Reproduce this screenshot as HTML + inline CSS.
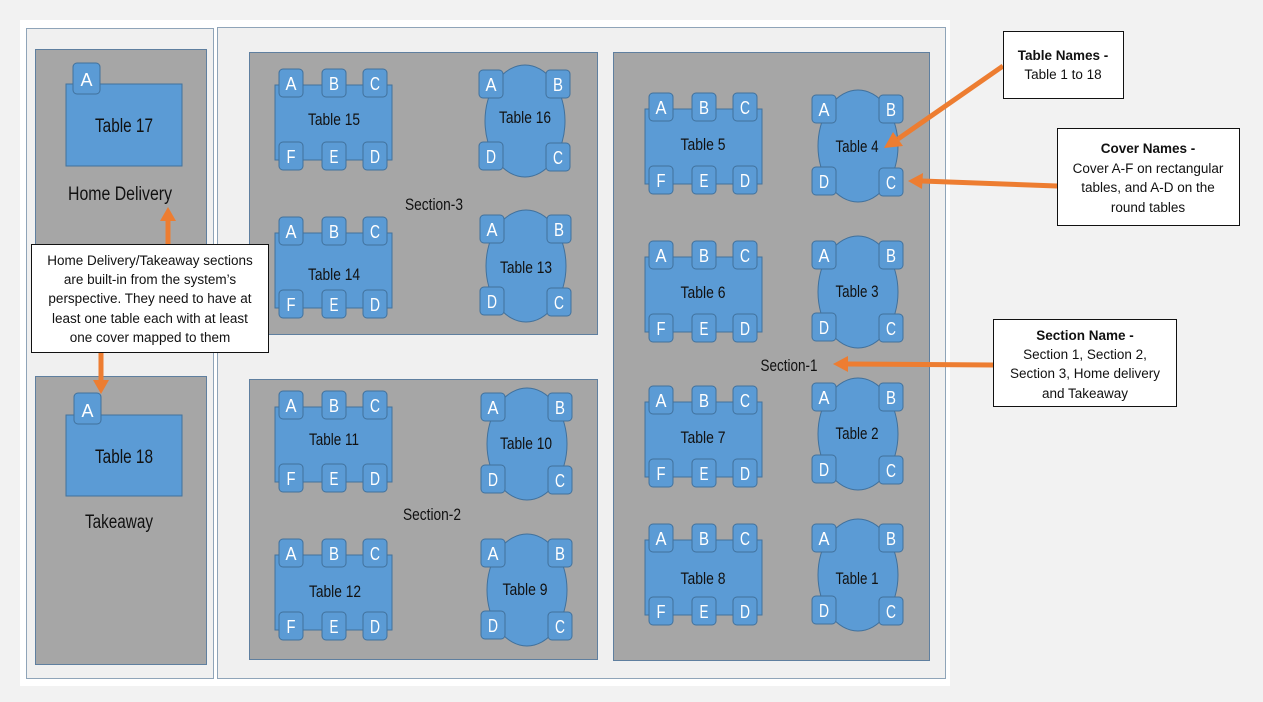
<!DOCTYPE html>
<html><head><meta charset="utf-8"><style>
html,body{margin:0;padding:0;background:#f2f2f2;}
svg{display:block;}
text{font-family:"Liberation Sans",sans-serif;}
.cv rect{fill:#5b9bd5;stroke:#41719c;stroke-width:1;}
.cv text{fill:#fff;font-size:18px;text-anchor:middle;}
.lbl{fill:#111;font-size:17px;text-anchor:middle;}
.sec{fill:#a6a6a6;stroke:#5f7f9f;stroke-width:1;}
.tb{fill:#5b9bd5;stroke:#41719c;stroke-width:1;}
.note{font-size:13.5px;fill:#111;text-anchor:middle;}
</style></head><body>
<svg width="1263" height="702" viewBox="0 0 1263 702" xmlns="http://www.w3.org/2000/svg">
<defs>
<g id="rt">
<rect class="tb" x="0" y="0" width="117" height="75"/>
<g class="cv"><rect x="4" y="-16" width="24" height="28" rx="4"/><text x="16" y="5" textLength="11" lengthAdjust="spacingAndGlyphs">A</text>
<rect x="47" y="-16" width="24" height="28" rx="4"/><text x="59" y="5" textLength="10" lengthAdjust="spacingAndGlyphs">B</text>
<rect x="88" y="-16" width="24" height="28" rx="4"/><text x="100" y="5" textLength="10" lengthAdjust="spacingAndGlyphs">C</text>
<rect x="4" y="57" width="24" height="28" rx="4"/><text x="16" y="78" textLength="9" lengthAdjust="spacingAndGlyphs">F</text>
<rect x="47" y="57" width="24" height="28" rx="4"/><text x="59" y="78" textLength="9" lengthAdjust="spacingAndGlyphs">E</text>
<rect x="88" y="57" width="24" height="28" rx="4"/><text x="100" y="78" textLength="10" lengthAdjust="spacingAndGlyphs">D</text></g>
</g>
<g id="ct">
<ellipse class="tb" cx="40" cy="56" rx="40" ry="56"/>
<g class="cv"><rect x="-6" y="5" width="24" height="28" rx="4"/><text x="6" y="26" textLength="11" lengthAdjust="spacingAndGlyphs">A</text>
<rect x="61" y="5" width="24" height="28" rx="4"/><text x="73" y="26" textLength="10" lengthAdjust="spacingAndGlyphs">B</text>
<rect x="-6" y="77" width="24" height="28" rx="4"/><text x="6" y="98" textLength="10" lengthAdjust="spacingAndGlyphs">D</text>
<rect x="61" y="78" width="24" height="28" rx="4"/><text x="73" y="99" textLength="10" lengthAdjust="spacingAndGlyphs">C</text></g>
</g>
</defs>
<rect x="0" y="0" width="1263" height="702" fill="#f2f2f2"/>
<rect x="20" y="20" width="930" height="666" fill="#fff"/>
<rect x="26.5" y="28.5" width="187" height="650" fill="#f0f0f0" stroke="#8fa4b8"/>
<rect x="217.5" y="27.5" width="728" height="651" fill="#f0f0f0" stroke="#8fa4b8"/>
<rect class="sec" x="35.5" y="49.5" width="171" height="297"/>
<rect class="sec" x="35.5" y="376.5" width="171" height="288"/>
<rect class="sec" x="249.5" y="52.5" width="348" height="282"/>
<rect class="sec" x="249.5" y="379.5" width="348" height="280"/>
<rect class="sec" x="613.5" y="52.5" width="316" height="608"/>

<!-- Home delivery -->
<rect class="tb" x="66" y="84" width="116" height="82"/>
<g class="cv"><rect x="73" y="63" width="27" height="31" rx="4"/><text x="86.5" y="86" textLength="12" lengthAdjust="spacingAndGlyphs">A</text></g>
<text class="lbl" x="124" y="132" style="font-size:19px" textLength="58" lengthAdjust="spacingAndGlyphs">Table 17</text>
<text class="lbl" x="120" y="200" style="font-size:19px" textLength="104" lengthAdjust="spacingAndGlyphs">Home Delivery</text>
<rect class="tb" x="66" y="415" width="116" height="81"/>
<g class="cv"><rect x="74" y="393" width="27" height="31" rx="4"/><text x="87.5" y="417" textLength="12" lengthAdjust="spacingAndGlyphs">A</text></g>
<text class="lbl" x="124" y="463" style="font-size:19px" textLength="58" lengthAdjust="spacingAndGlyphs">Table 18</text>
<text class="lbl" x="119" y="528" style="font-size:19px" textLength="68" lengthAdjust="spacingAndGlyphs">Takeaway</text>

<!-- Section 3 -->
<use href="#rt" x="275" y="85"/><text class="lbl" x="334" y="125" textLength="52" lengthAdjust="spacingAndGlyphs">Table 15</text>
<use href="#rt" x="275" y="233"/><text class="lbl" x="334" y="280" textLength="52" lengthAdjust="spacingAndGlyphs">Table 14</text>
<use href="#ct" x="485" y="65"/><text class="lbl" x="525" y="123" textLength="52" lengthAdjust="spacingAndGlyphs">Table 16</text>
<use href="#ct" x="486" y="210"/><text class="lbl" x="526" y="273" textLength="52" lengthAdjust="spacingAndGlyphs">Table 13</text>
<text class="lbl" x="434" y="210" textLength="58" lengthAdjust="spacingAndGlyphs">Section-3</text>

<!-- Section 2 -->
<use href="#rt" x="275" y="407"/><text class="lbl" x="334" y="445" textLength="50" lengthAdjust="spacingAndGlyphs">Table 11</text>
<use href="#rt" x="275" y="555"/><text class="lbl" x="335" y="597" textLength="52" lengthAdjust="spacingAndGlyphs">Table 12</text>
<use href="#ct" x="487" y="388"/><text class="lbl" x="526" y="449" textLength="52" lengthAdjust="spacingAndGlyphs">Table 10</text>
<use href="#ct" x="487" y="534"/><text class="lbl" x="525" y="595" textLength="45" lengthAdjust="spacingAndGlyphs">Table 9</text>
<text class="lbl" x="432" y="520" textLength="58" lengthAdjust="spacingAndGlyphs">Section-2</text>

<!-- Section 1 -->
<use href="#rt" x="645" y="109"/><text class="lbl" x="703" y="150" textLength="45" lengthAdjust="spacingAndGlyphs">Table 5</text>
<use href="#rt" x="645" y="257"/><text class="lbl" x="703" y="298" textLength="45" lengthAdjust="spacingAndGlyphs">Table 6</text>
<use href="#rt" x="645" y="402"/><text class="lbl" x="703" y="443" textLength="45" lengthAdjust="spacingAndGlyphs">Table 7</text>
<use href="#rt" x="645" y="540"/><text class="lbl" x="703" y="584" textLength="45" lengthAdjust="spacingAndGlyphs">Table 8</text>
<use href="#ct" x="818" y="90"/><text class="lbl" x="857" y="152" textLength="43" lengthAdjust="spacingAndGlyphs">Table 4</text>
<use href="#ct" x="818" y="236"/><text class="lbl" x="857" y="297" textLength="43" lengthAdjust="spacingAndGlyphs">Table 3</text>
<use href="#ct" x="818" y="378"/><text class="lbl" x="857" y="439" textLength="43" lengthAdjust="spacingAndGlyphs">Table 2</text>
<use href="#ct" x="818" y="519"/><text class="lbl" x="857" y="584" textLength="43" lengthAdjust="spacingAndGlyphs">Table 1</text>
<text class="lbl" x="789" y="371" textLength="57" lengthAdjust="spacingAndGlyphs">Section-1</text>

<!-- arrows -->
<g stroke="#ed7d31" stroke-width="5" fill="none">
<line x1="168" y1="245" x2="168" y2="220"/>
<line x1="101" y1="352" x2="101" y2="382"/>
<line x1="1003" y1="66" x2="898" y2="139"/>
<line x1="1057" y1="186" x2="922" y2="181"/>
<line x1="993" y1="365" x2="847" y2="364"/>
</g>
<g fill="#ed7d31">
<polygon points="168,207 160,221 176,221"/>
<polygon points="101,394 93,380 109,380"/>
<polygon points="884,148 893,132 903,146"/>
<polygon points="908,181 923,173 922,189"/>
<polygon points="833,364 848,356 848,372"/>
</g>

<!-- notes -->
<rect x="31.5" y="244.5" width="237" height="108" fill="#fff" stroke="#111"/>
<text class="note" x="150" y="265">Home Delivery/Takeaway sections</text>
<text class="note" x="150" y="284">are built-in from the system’s</text>
<text class="note" x="150" y="303">perspective. They need to have at</text>
<text class="note" x="150" y="323">least one table each with at least</text>
<text class="note" x="150" y="342">one cover mapped to them</text>

<rect x="1003.5" y="31.5" width="120" height="67" fill="#fff" stroke="#111"/>
<text class="note" x="1063" y="60" style="font-weight:bold">Table Names -</text>
<text class="note" x="1063" y="79">Table 1 to 18</text>

<rect x="1057.5" y="128.5" width="182" height="97" fill="#fff" stroke="#111"/>
<text class="note" x="1148" y="153" style="font-weight:bold">Cover Names -</text>
<text class="note" x="1148" y="173">Cover A-F on rectangular</text>
<text class="note" x="1148" y="192">tables, and A-D on the</text>
<text class="note" x="1148" y="212">round tables</text>

<rect x="993.5" y="319.5" width="183" height="87" fill="#fff" stroke="#111"/>
<text class="note" x="1085" y="340" style="font-weight:bold">Section Name -</text>
<text class="note" x="1085" y="359">Section 1, Section 2,</text>
<text class="note" x="1085" y="378">Section 3, Home delivery</text>
<text class="note" x="1085" y="398">and Takeaway</text>
</svg>
</body></html>
